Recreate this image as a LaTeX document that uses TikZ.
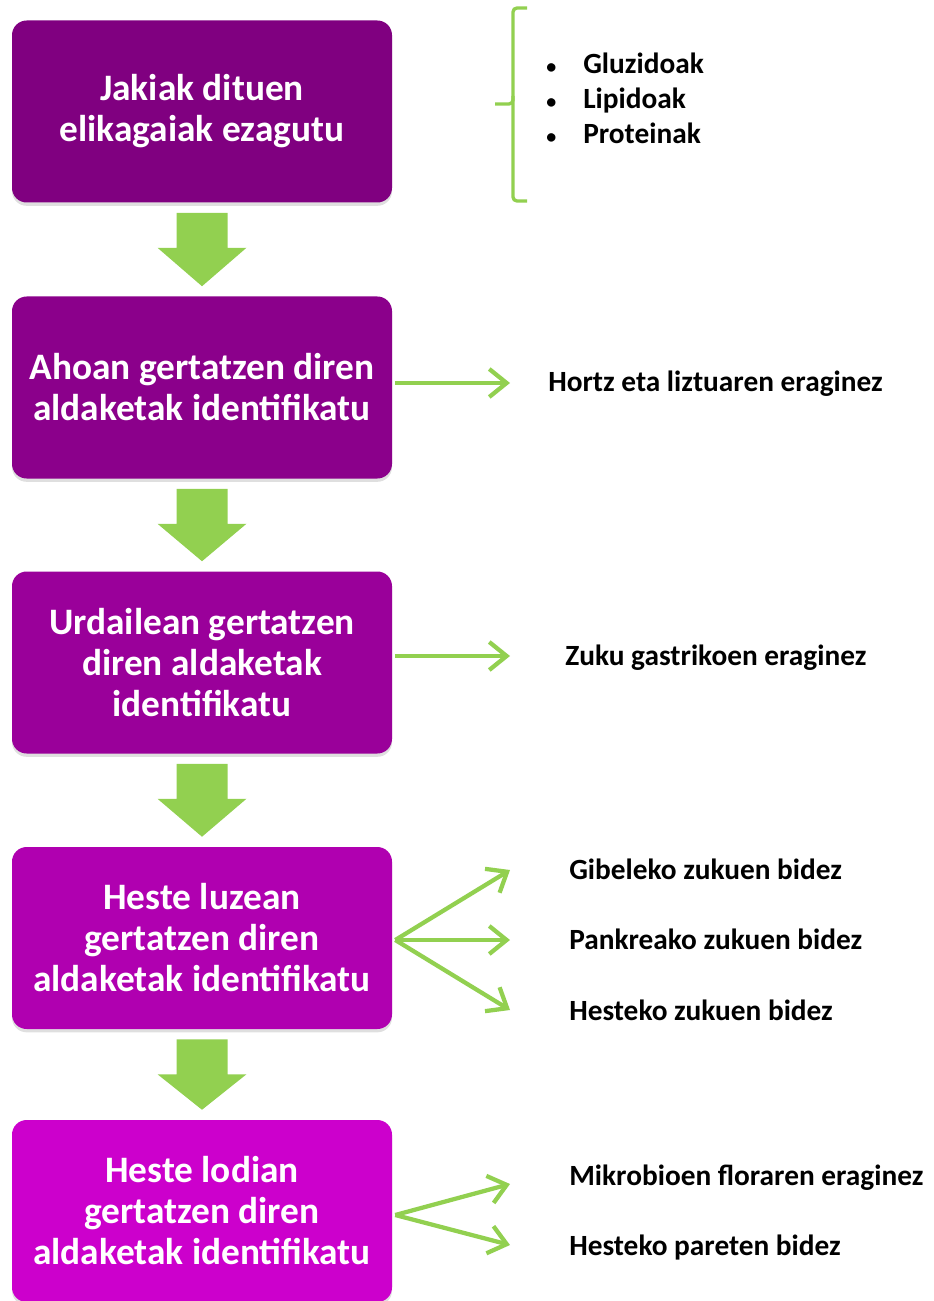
\documentclass[tikz,border=0pt]{standalone}
\usepackage{fontspec}
\setmainfont{Carlito}
\usetikzlibrary{positioning,calc,arrows.meta,shadows}

\definecolor{stepone}{RGB}{128,0,128}
\definecolor{steptwo}{RGB}{139,0,139}
\definecolor{stepthree}{RGB}{154,0,154}
\definecolor{stepfour}{RGB}{176,0,176}
\definecolor{stepfive}{RGB}{204,0,204}
\definecolor{leafgreen}{RGB}{146,208,80}

\tikzset{
  stepbox/.style={rounded corners=11pt, minimum width=285pt, minimum height=136.5pt,
    align=center, text=white, font=\bfseries\fontsize{28}{30.75}\selectfont,
    drop shadow={opacity=0.25, shadow xshift=0pt, shadow yshift=-2.5pt}},
  thinarrow/.style={draw=leafgreen, line width=3.2pt, -{Straight Barb[length=13pt, width=21pt]}},
  note/.style={anchor=base west, inner sep=0pt, font=\bfseries\fontsize{22}{26}\selectfont}
}

% big green arrow from the bottom of one step to the top of the next
\newcommand{\fatarrow}[2]{%
  \fill[leafgreen] ($(#1.south)+(-25.5,10)$) -- ++(51,0) -- ++(0,35) -- ++(19,0)
    -- ($(#2.north)+(0,-10)$) -- ($(#1.south)+(-44.5,45)$) -- ++(19,0) -- cycle;}
\newcommand{\bulletitem}{\makebox[27.75pt][l]{\fontsize{15}{15}\selectfont•}}

\begin{document}
\begin{tikzpicture}[x=0.75pt, y=-0.75pt]
    \useasboundingbox (0, 0) rectangle (933, 1301);

    % Steps of the digestion
    \node[stepbox, fill=stepone] (b1) at (202, 111.5) {Jakiak dituen\\elikagaiak ezagutu};
    \node[stepbox, fill=steptwo] (b2) at (202, 387.5) {Ahoan gertatzen diren\\aldaketak identifikatu};
    \node[stepbox, fill=stepthree] (b3) at (202, 662.5) {Urdailean gertatzen\\diren aldaketak\\identifikatu};
    \node[stepbox, fill=stepfour] (b4) at (202, 938) {Heste luzean\\gertatzen diren\\aldaketak identifikatu};
    \node[stepbox, fill=stepfive] (b5) at (202, 1211) {Heste lodian\\gertatzen diren\\aldaketak identifikatu};

    % Big arrows between the steps
    \fatarrow{b1}{b2}
    \fatarrow{b2}{b3}
    \fatarrow{b3}{b4}
    \fatarrow{b4}{b5}

    % Nutrients
    \draw[leafgreen, line width=2.5pt, rounded corners=3pt]
        (527, 8) -- (513, 8) -- (513, 201) -- (527, 201);
    \draw[leafgreen, line width=2.5pt, rounded corners=3pt]
        (513, 96) -- (513, 104) -- (495, 104);
    \node[note] (g1) at (546, 74) {\bulletitem Gluzidoak};
    \node[note] (g2) at (546, 109) {\bulletitem Lipidoak};
    \node[note] (g3) at (546, 144) {\bulletitem Proteinak};

    % Side notes
    \node[note] (n2) at (548, 392) {Hortz eta liztuaren eraginez};
    \node[note] (n3) at (565, 665) {Zuku gastrikoen eraginez};
    \node[note] (n41) at (569, 879) {Gibeleko zukuen bidez};
    \node[note] (n42) at (569, 949) {Pankreako zukuen bidez};
    \node[note] (n43) at (569, 1020) {Hesteko zukuen bidez};
    \node[note] (n51) at (569, 1185) {Mikrobioen floraren eraginez};
    \node[note] (n52) at (569, 1255) {Hesteko pareten bidez};

    % Arrow tips
    \coordinate (t2) at (510, 383);
    \coordinate (t3) at (510, 656);
    \coordinate (t41) at (510, 870);
    \coordinate (t42) at (510, 940);
    \coordinate (t43) at (510, 1010);
    \coordinate (t51) at (510, 1184);
    \coordinate (t52) at (510, 1245);

    \draw[thinarrow] (b2.east |- t2) ++(3, 0) -- (t2);
    \draw[thinarrow] (b3.east |- t3) ++(3, 0) -- (t3);
    \draw[thinarrow] (b4.east) ++(3, 2) -- (t41);
    \draw[thinarrow] (b4.east) ++(3, 2) -- (t42);
    \draw[thinarrow] (b4.east) ++(3, 2) -- (t43);
    \draw[thinarrow] (b5.east) ++(3, 4) -- (t51);
    \draw[thinarrow] (b5.east) ++(3, 4) -- (t52);
\end{tikzpicture}
\end{document}
